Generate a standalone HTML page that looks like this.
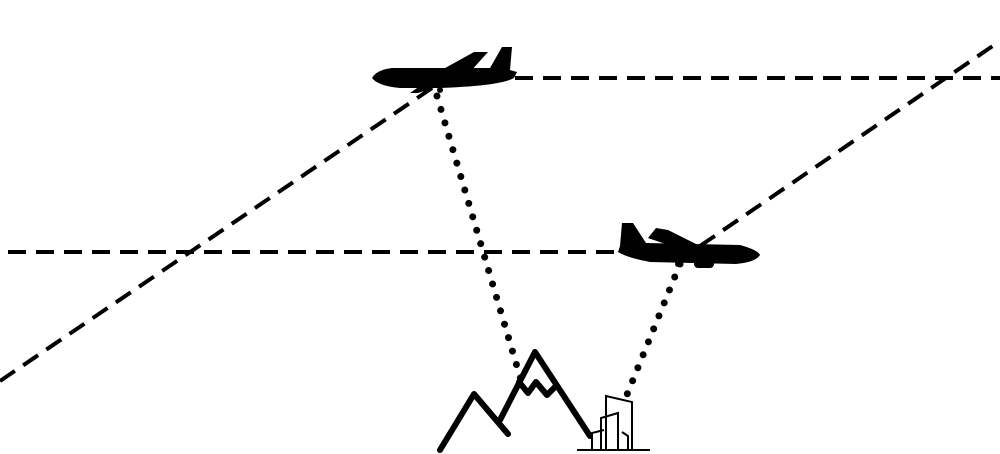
<!DOCTYPE html>
<html><head><meta charset="utf-8"><style>html,body{margin:0;padding:0;background:#fff}svg{display:block}</style></head>
<body>
<svg width="1000" height="454" viewBox="0 0 1000 454" xmlns="http://www.w3.org/2000/svg">
  <g fill="none" stroke="#000" stroke-width="4" stroke-dasharray="18,10">
    <line x1="515" y1="78" x2="1000" y2="78"/>
    <line x1="0" y1="381" x2="432" y2="88"/>
    <line x1="8" y1="252" x2="622" y2="252"/>
    <line x1="700" y1="246" x2="1000" y2="41"/>
  </g>
  <g fill="none" stroke="#000" stroke-width="7" stroke-linecap="round" stroke-dasharray="0,14">
    <line x1="437" y1="96" x2="521" y2="380"/>
    <line x1="680" y1="264" x2="624" y2="402"/>
  </g>
  <g fill="#000">
    <path d="M372,78 Q376,70 392,68 L490,68 L502,47 L512,47 L510,70 L517,72 L514,78 Q500,86 440,88 L400,88 Q378,86 372,78 Z"/>
    <path d="M438,72 L474,52 L488,52 L470,72 Z"/>
    <path d="M420,86 L410,93 L418,93 L440,86 Z"/>
    <circle cx="440" cy="90" r="3"/>
  </g>
  <g fill="#000">
    <path d="M620,246 L622,223 L633,223 L646,243 L740,245 Q758,250 760,255 Q756,262 736,264 L650,262 Q628,258 618,252 Z"/>
    <path d="M648,238 L656,228 L668,230 L702,247 L680,249 Z"/>
    <circle cx="678" cy="264" r="3"/>
    <rect x="694" y="258" width="20" height="10" rx="4"/>
  </g>
  <g fill="none" stroke="#000" stroke-width="6" stroke-linecap="round" stroke-linejoin="round">
    <polyline points="440,450 474,394 508,434"/>
    <polyline points="500,420 535,352 590,436"/>
    <polyline points="519,382 528,393 536,382 547,395 555,387"/>
  </g>
  <g fill="none" stroke="#000" stroke-width="2">
    <polyline points="577,450 650,450"/>
    <polyline points="606,450 606,396 632,402 632,450"/>
    <polyline points="601,450 601,418 618,413 618,450"/>
    <polyline points="592,450 592,433 604,430"/>
    <polyline points="622,432 628,436 628,450"/>
  </g>
</svg>
</body></html>
